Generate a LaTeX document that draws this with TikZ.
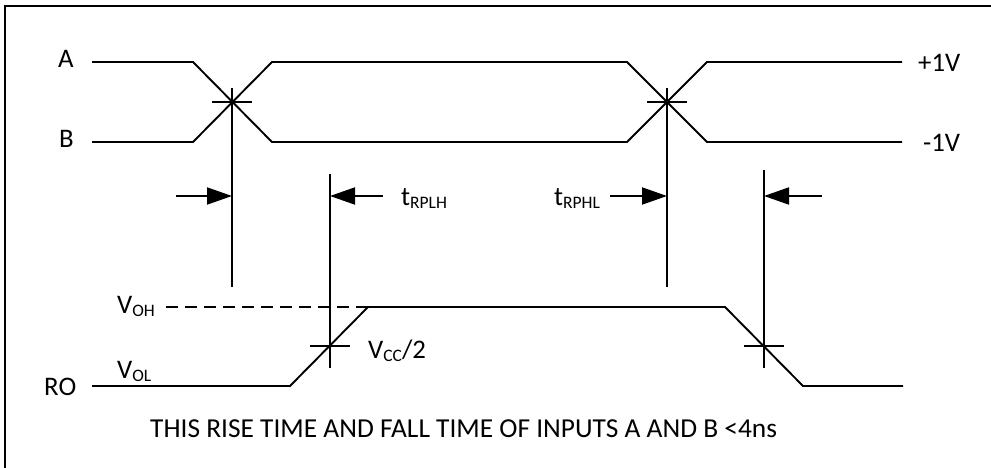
\documentclass[tikz,border=0pt]{standalone}
\usepackage{fontspec}
\setmainfont{Carlito}
\usetikzlibrary{arrows.meta}
\newcommand{\lowsub}[1]{\raisebox{-0.3ex}{\fontsize{17.5}{20}\selectfont #1}}
\tikzset{
  wave/.style={line width=1.9pt},
  dimline/.style={line width=1.9pt},
  dimarrow/.style={line width=1.9pt,-{Triangle[length=25pt,width=17pt]}},
  lbl/.style={font=\fontsize{26.8}{31}\selectfont,inner sep=0pt,anchor=base west}
}
\begin{document}
\begin{tikzpicture}[x=1pt,y=-1pt]
\useasboundingbox (0,0) rectangle (991,468);
% frame (only top and left edges are in view)
\draw[line width=1.9pt] (5,468) -- (5,6) -- (991,6);

% input waveforms A and B
\coordinate (a0) at (92,62);  \coordinate (a1) at (193,62);
\coordinate (a2) at (272,142); \coordinate (a3) at (627,142);
\coordinate (a4) at (707,62);  \coordinate (a5) at (902,62);
\coordinate (b0) at (92,142); \coordinate (b1) at (193,142);
\coordinate (b2) at (272,62);  \coordinate (b3) at (627,62);
\coordinate (b4) at (707,142); \coordinate (b5) at (902,142);
\draw[wave] (a0) -- (a1) -- (a2) -- (a3) -- (a4) -- (a5);
\draw[wave] (b0) -- (b1) -- (b2) -- (b3) -- (b4) -- (b5);

% output RO
\coordinate (r0) at (92,386);  \coordinate (r1) at (290,386);
\coordinate (r2) at (368,307); \coordinate (r3) at (725,307);
\coordinate (r4) at (803,386); \coordinate (r5) at (903,386);
\draw[wave] (r0) -- (r1) -- (r2) -- (r3) -- (r4) -- (r5);
\coordinate (voh) at (166,307);
\draw[wave,dash pattern=on 12pt off 7pt] (voh) -- (r2);

% crossing points
\coordinate (x1) at (232,102); \coordinate (x2) at (667,102);
\coordinate (m1) at (330,346); \coordinate (m2) at (764,346);
\foreach \c in {x1,x2,m1,m2}
  \draw[dimline] ([xshift=-20pt]\c) -- ([xshift=20pt]\c);
\draw[dimline] ([yshift=14pt]x1) -- ([yshift=-185pt]x1);
\draw[dimline] ([yshift=14pt]x2) -- ([yshift=-185pt]x2);
\draw[dimline] ([yshift=172pt]m1) -- ([yshift=-22pt]m1);
\draw[dimline] ([yshift=176pt]m2) -- ([yshift=-22pt]m2);

% delay arrows
\coordinate (p1) at (176,196); \coordinate (q1) at (232,196);
\coordinate (p2) at (383,196); \coordinate (q2) at (330,196);
\coordinate (p3) at (610,196); \coordinate (q3) at (667,196);
\coordinate (p4) at (822,196); \coordinate (q4) at (764,196);
\foreach \i in {1,...,4}
  \draw[dimarrow] (p\i) -- (q\i);

% labels
\node[lbl] (la) at (58,68) {A};
\node[lbl] (lb) at (59,148) {B};
\node[lbl] (lp) at (918,72) {+1V};
\node[lbl] (lm) at (923,152) {-1V};
\node[lbl] (lro) at (44,395) {RO};
\node[lbl] (lvoh) at (117,313) {V\lowsub{OH}};
\node[lbl] (lvol) at (117,378) {V\lowsub{OL}};
\node[lbl] (lvcc) at (368,358) {V\lowsub{CC}/2};
\node[lbl] (ltlh) at (401,205) {t\lowsub{RPLH}};
\node[lbl] (lthl) at (554,205) {t\lowsub{RPHL}};
\node[lbl,font=\fontsize{27.4}{31}\selectfont] (note) at (150,437) {THIS RISE TIME AND FALL TIME OF INPUTS A AND B <4ns};
\end{tikzpicture}
\end{document}
